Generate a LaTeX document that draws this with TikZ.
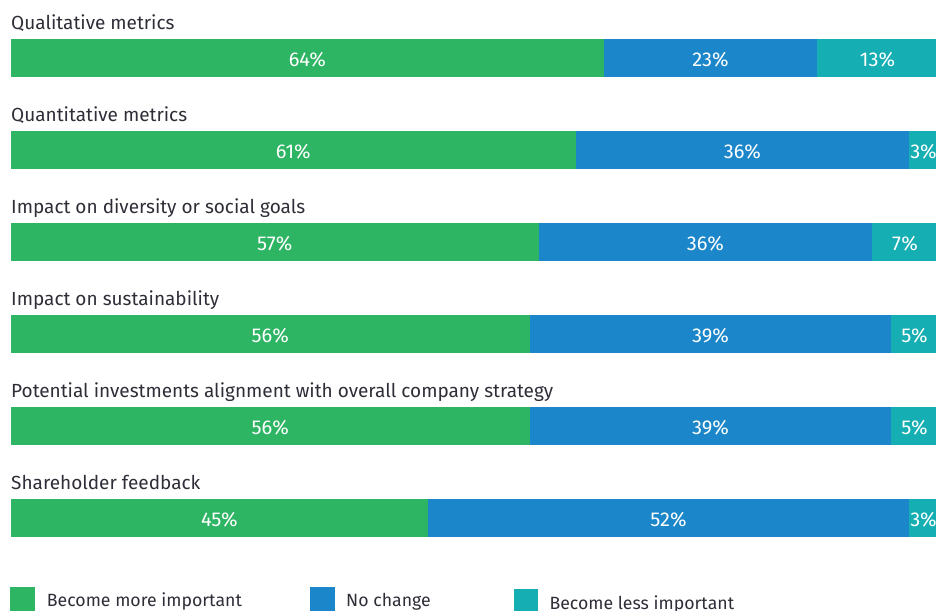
\documentclass[tikz,border=0pt]{standalone}
\usepackage{fontspec}
\setmainfont{Fira Sans}
\definecolor{cgreen}{HTML}{2DB563}
\definecolor{cblue}{HTML}{1B87CA}
\definecolor{cteal}{HTML}{15AEB3}
\definecolor{ctext}{HTML}{2E2E38}
\begin{document}
\begin{tikzpicture}[x=1pt,y=-1pt,
  seg/.style={rectangle, anchor=west, inner sep=0pt, minimum height=37.5pt, line width=0.6pt,
    text=white, font=\fontsize{20}{24}\selectfont, text height=17.9pt, text depth=0pt},
  gseg/.style={seg, fill=cgreen, draw=cgreen},
  bseg/.style={seg, fill=cblue, draw=cblue},
  tseg/.style={seg, fill=cteal, draw=cteal},
  rowtitle/.style={anchor=base west, inner sep=0pt, text=ctext, font=\fontsize{19}{23}\selectfont},
  legtext/.style={anchor=base west, inner sep=0pt, text=ctext, font=\fontsize{17.7}{21}\selectfont},
  legbox/.style={rectangle, anchor=north west, inner sep=0pt, minimum width=24.5pt, minimum height=25pt}
]
\useasboundingbox (0,0) rectangle (936,610);

% Row 1
\node[rowtitle] (t1) at (11,29.5) {Qualitative metrics};
\node[gseg, minimum width=592pt] (r1a) at (11,57.75) {64\%};
\node[bseg, minimum width=213pt] (r1b) at (r1a.east) {23\%};
\node[tseg, minimum width=120pt] (r1c) at (r1b.east) {13\%};

% Row 2
\node[rowtitle] (t2) at (11,121.5) {Quantitative metrics};
\node[gseg, minimum width=564pt] (r2a) at (11,149.75) {61\%};
\node[bseg, minimum width=333pt] (r2b) at (r2a.east) {36\%};
\node[tseg, minimum width=28pt] (r2c) at (r2b.east) {3\%};

% Row 3
\node[rowtitle] (t3) at (11,213.5) {Impact on diversity or social goals};
\node[gseg, minimum width=527pt] (r3a) at (11,241.75) {57\%};
\node[bseg, minimum width=333pt] (r3b) at (r3a.east) {36\%};
\node[tseg, minimum width=65pt] (r3c) at (r3b.east) {7\%};

% Row 4
\node[rowtitle] (t4) at (11,305.5) {Impact on sustainability};
\node[gseg, minimum width=518pt] (r4a) at (11,333.75) {56\%};
\node[bseg, minimum width=361pt] (r4b) at (r4a.east) {39\%};
\node[tseg, minimum width=46pt] (r4c) at (r4b.east) {5\%};

% Row 5
\node[rowtitle] (t5) at (11,397.5) {Potential investments alignment with overall company strategy};
\node[gseg, minimum width=518pt] (r5a) at (11,425.75) {56\%};
\node[bseg, minimum width=361pt] (r5b) at (r5a.east) {39\%};
\node[tseg, minimum width=46pt] (r5c) at (r5b.east) {5\%};

% Row 6
\node[rowtitle] (t6) at (11,489.5) {Shareholder feedback};
\node[gseg, minimum width=416pt] (r6a) at (11,517.75) {45\%};
\node[bseg, minimum width=481pt] (r6b) at (r6a.east) {52\%};
\node[tseg, minimum width=28pt] (r6c) at (r6b.east) {3\%};

% Legend
\node[legbox, fill=cgreen] (lg) at (10,586.7) {};
\node[legtext] (lgt) at (46.7,606.7) {Become more important};
\node[legbox, fill=cblue] (lb) at (310,586.7) {};
\node[legtext] (lbt) at (346,606.7) {No change};
\node[legbox, fill=cteal] (lt) at (513.3,589) {};
\node[legtext] (ltt) at (549.3,609) {Become less important};
\end{tikzpicture}
\end{document}
